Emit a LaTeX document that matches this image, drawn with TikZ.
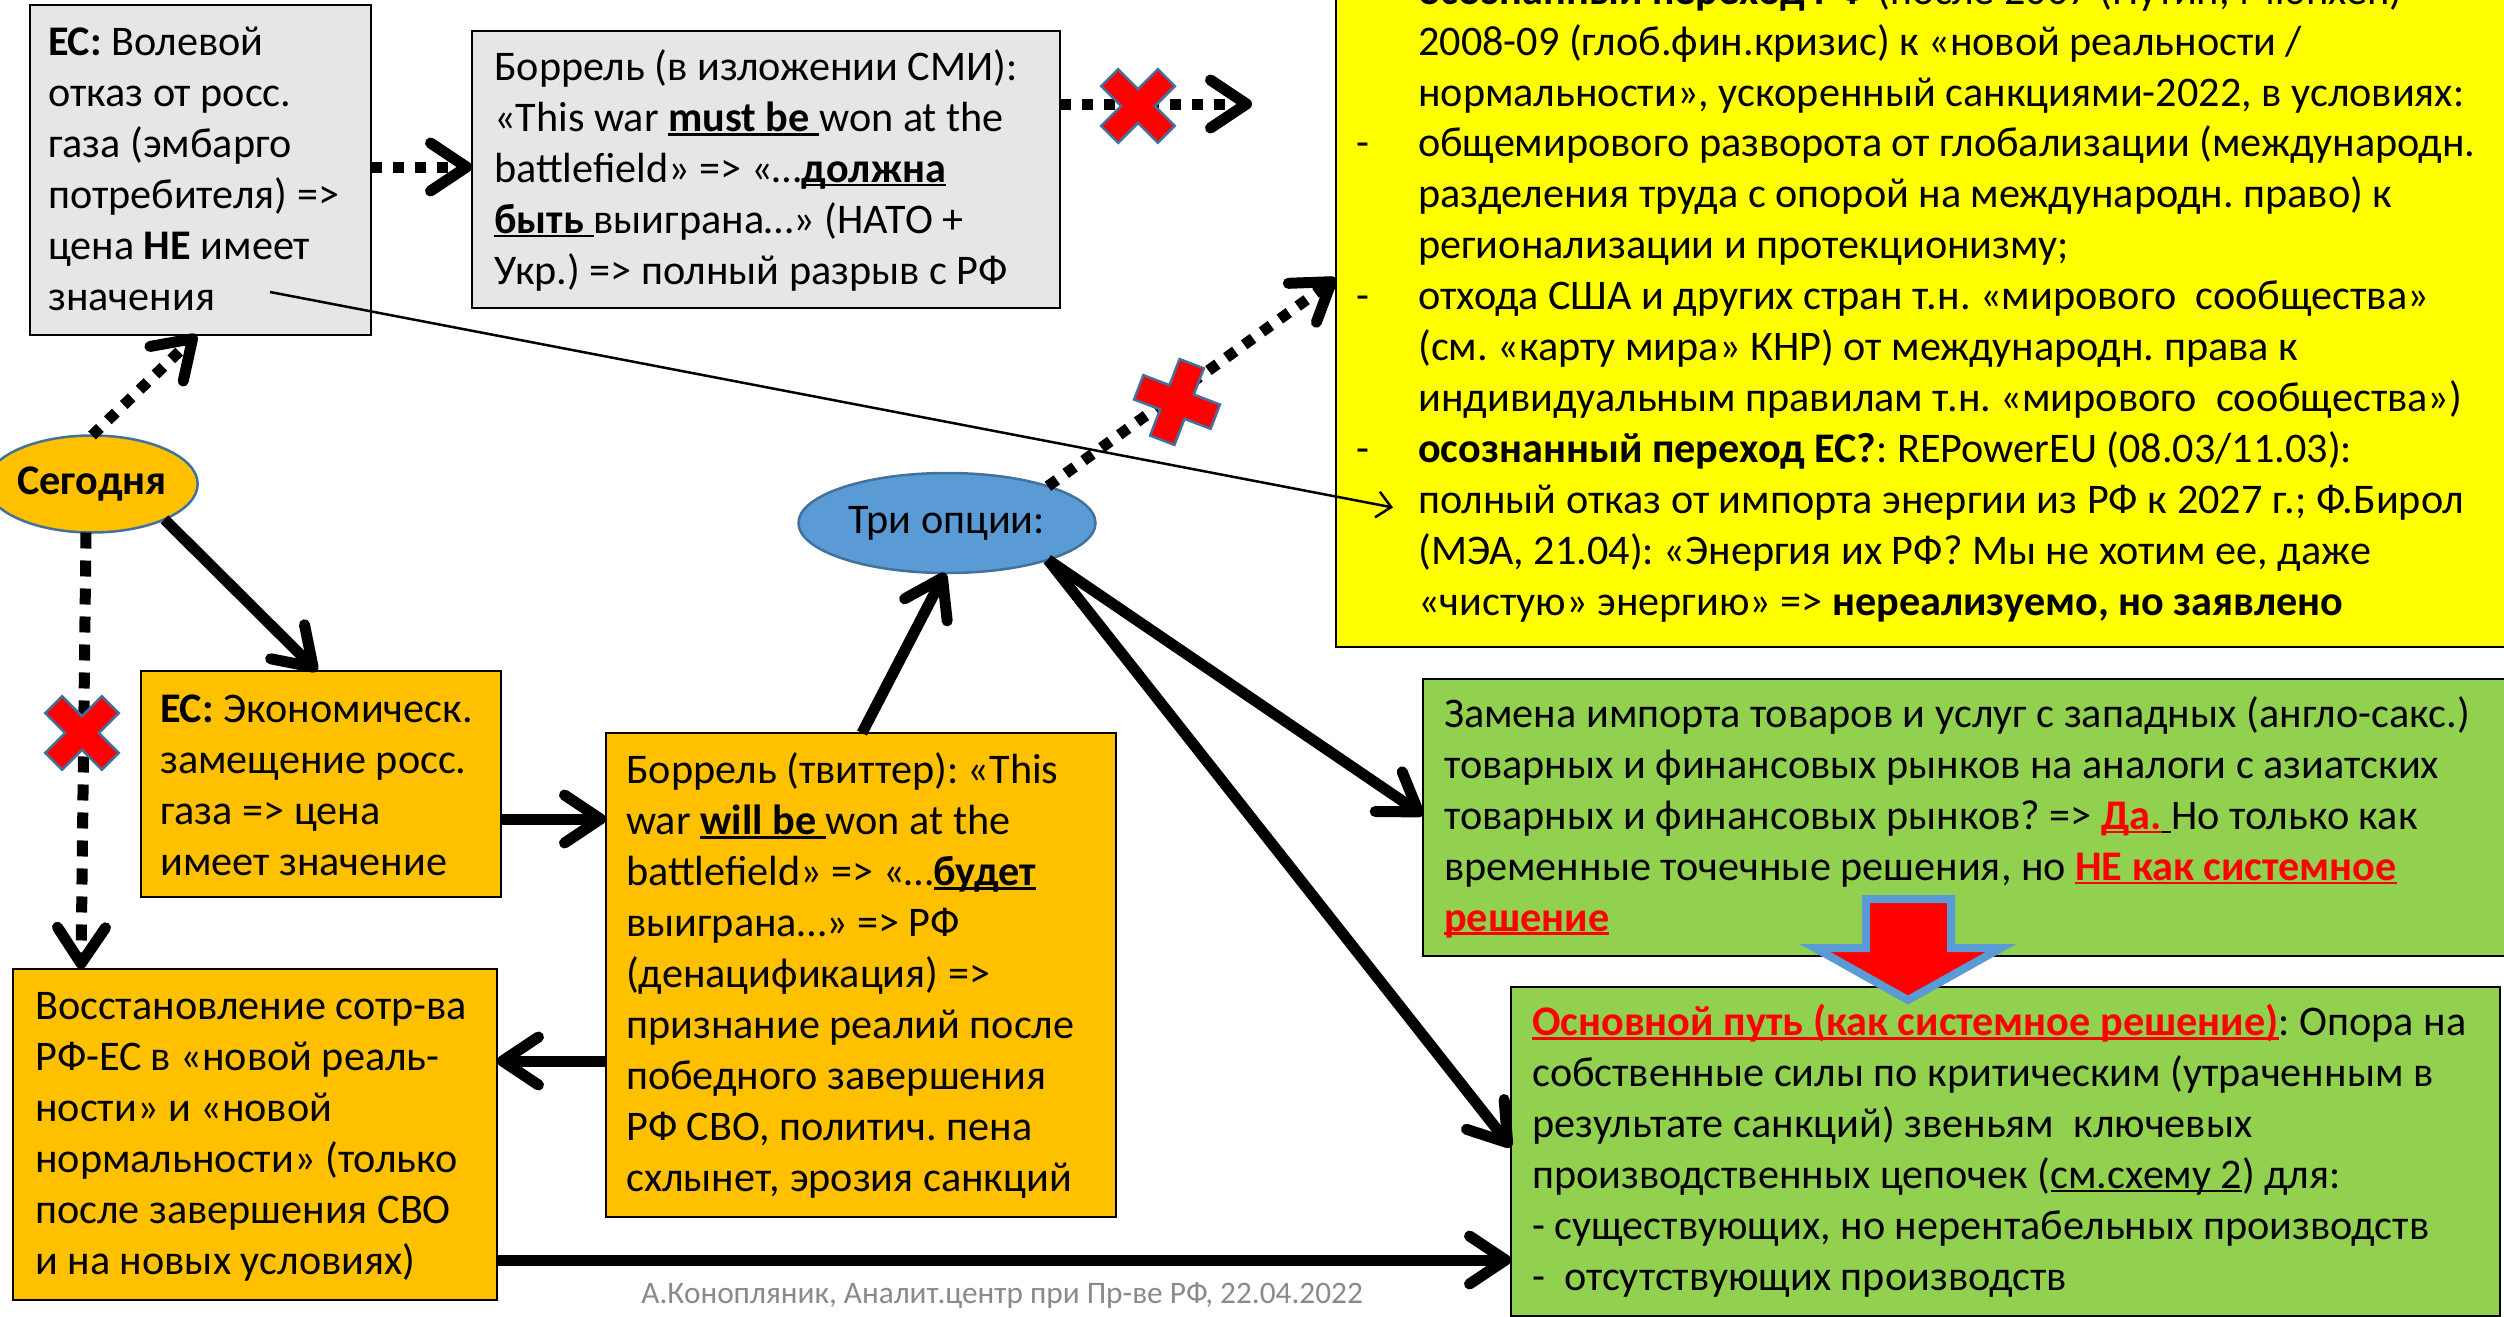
\documentclass[tikz,border=0pt]{standalone}
\usepackage{fontspec}
\setmainfont{Carlito}
\frenchspacing
\usetikzlibrary{arrows.meta,calc,shapes.geometric}
\definecolor{cgrey}{HTML}{E7E6E6}
\definecolor{corange}{HTML}{FFC000}
\definecolor{cgreen}{HTML}{92D050}
\definecolor{cyellow}{HTML}{FFFF00}
\definecolor{cblue}{HTML}{5B9BD5}
\definecolor{cblueline}{HTML}{41719C}
\definecolor{cred}{HTML}{FF0000}
\definecolor{cfoot}{HTML}{8A8A8A}
\newcommand\myul[1]{\leavevmode\setbox0=\hbox{#1}\rlap{\rule[-0.1em]{\wd0}{0.065em}}\box0}
\newcommand\ybul{\llap{\makebox[62pt][l]{-}}}
\newcommand\redtxt[1]{\textcolor{cred}{\textbf{\myul{#1}}}}
\tikzset{
  box/.style={draw=black, line width=2.5pt, rectangle, inner sep=0pt, outer sep=0pt, anchor=center},
  txt/.style={anchor=base west, align=left, inner sep=0pt, font=\fontsize{42.2pt}{50.9pt}\selectfont\frenchspacing},
  oval/.style={ellipse, draw=cblueline, line width=2.5pt, inner sep=0pt, outer sep=0pt, font=\fontsize{42.2pt}{50.9pt}\selectfont},
  thickarrow/.style={line width=11pt, -{Straight Barb[length=36pt,width=48pt,line width=11pt,round]}},
  dotarrow/.style={line width=11pt, dash pattern=on 11pt off 11pt, -{Straight Barb[length=36pt,width=48pt,line width=11pt,round]}},
  dasharrow/.style={line width=11pt, dash pattern=on 16pt off 12pt, -{Straight Barb[length=36pt,width=48pt,line width=11pt,round]}},
  thinarrow/.style={line width=2.5pt, -{Straight Barb[length=14pt,width=26pt,line width=2.5pt]}},
  xmark/.style={fill=cred, draw=cblueline, line width=2.5pt, line join=miter},
}
\newcommand\crossmark[5]{% x y rotation arm-half-length arm-half-width
  \draw[xmark, shift={(#1,#2)}, rotate=#3]
    (#5,#4)--(#5,#5)--(#4,#5)--(#4,-#5)--(#5,-#5)--(#5,-#4)--(-#5,-#4)--(-#5,-#5)--(-#4,-#5)--(-#4,#5)--(-#5,#5)--(-#5,#4)--cycle;}
\begin{document}
\begin{tikzpicture}[x=1pt,y=-1pt]
\useasboundingbox (0,0) rectangle (2504,1317);
\clip (0,0) rectangle (2504,1317);
\fill[white] (0,0) rectangle (2504,1317);

% boxes
\node[box, fill=cgrey, minimum width=341pt, minimum height=330pt] (g1) at (200.5,170) {};
\node[box, fill=cgrey, minimum width=588pt, minimum height=277pt] (g2) at (766,169.5) {};
\node[box, fill=cyellow, minimum width=1179pt, minimum height=667pt] (yl) at (1925.5,313.5) {};
\node[box, fill=corange, minimum width=360pt, minimum height=226pt] (ec) at (321,784) {};
\node[box, fill=corange, minimum width=510pt, minimum height=484pt] (bt) at (861,975) {};
\node[box, fill=corange, minimum width=484pt, minimum height=331pt] (vos) at (255,1134.5) {};
\node[box, fill=cgreen, minimum width=1092pt, minimum height=277pt] (gr1) at (1969,817.5) {};
\node[box, fill=cgreen, minimum width=989pt, minimum height=329pt] (gr2) at (2005.5,1151.5) {};
\node[oval, fill=corange, minimum width=186pt, minimum height=97pt] (seg) at (92,484) {\textbf{Сегодня}};
\node[oval, fill=cblue, minimum width=297pt, minimum height=100pt] (tri) at (947,523) {Три опции:};

% texts (anchored at the baseline of their last line)
\node[txt] (g1t) at (48,310) {\textbf{ЕС:} Волевой\\отказ от росс.\\газа (эмбарго\\потребителя) =>\\цена \textbf{НЕ} имеет\\значения};
\node[txt] (g2t) at (494,284) {Боррель (в изложении СМИ):\\«This war \textbf{\myul{must be }}won at the\\battlefield» => «…\textbf{\myul{должна}}\\\textbf{\myul{быть }}выиграна…» (НАТО +\\Укр.) => полный разрыв с РФ};
\node[txt] (ylt) at (1418,615) {\textbf{осознанный переход РФ} (после 2007 (Путин, Мюнхен)\\
2008-09 (глоб.фин.кризис) к «новой реальности /\\
нормальности», ускоренный санкциями-2022, в условиях:\\
\ybul общемирового разворота от глобализации (международн.\\
разделения труда с опорой на международн. право) к\\
регионализации и протекционизму;\\
\ybul отхода США и других стран т.н. «мирового\ \ сообщества»\\
(см. «карту мира» КНР) от международн. права к\\
индивидуальным правилам т.н. «мирового\ \ сообщества»)\\
\ybul \textbf{осознанный переход ЕС?}: REPowerEU (08.03/11.03):\\
полный отказ от импорта энергии из РФ к 2027 г.; Ф.Бирол\\
(МЭА, 21.04): «Энергия их РФ? Мы не хотим ее, даже\\
«чистую» энергию» => \textbf{нереализуемо, но заявлено}};
\node[txt] (ect) at (160,875) {\textbf{ЕС:} Экономическ.\\замещение росс.\\газа => цена\\имеет значение};
\node[txt] (btt) at (626,1191) {Боррель (твиттер): «This\\war \textbf{\myul{will be }}won at the\\battlefield» => «…\textbf{\myul{будет}}\\выиграна…» => РФ\\(денацификация) =>\\признание реалий после\\победного завершения\\РФ СВО, политич. пена\\схлынет, эрозия санкций};
\node[txt] (vost) at (35,1274) {Восстановление сотр-ва\\РФ-ЕС в «новой реаль-\\ности» и «новой\\нормальности» (только\\после завершения СВО\\и на новых условиях)};
\node[txt] (gr1t) at (1444,931) {Замена импорта товаров и услуг с западных (англо-сакс.)\\
товарных и финансовых рынков на аналоги с азиатских\\
товарных и финансовых рынков? => \redtxt{Да.}\myul{ }Но только как\\
временные точечные решения, но \redtxt{НЕ как системное}\\
\redtxt{решение}};
\node[txt] (gr2t) at (1532,1290) {\redtxt{Основной путь (как системное решение)}: Опора на\\
собственные силы по критическим (утраченным в\\
результате санкций) звеньям\ \ ключевых\\
производственных цепочек (\myul{см.схему 2}) для:\\
- существующих, но нерентабельных производств\\
-\ \ отсутствующих производств};
\node[anchor=center, inner sep=0pt, font=\fontsize{31.3pt}{38pt}\selectfont\frenchspacing, text=cfoot] (foot) at (1002,1296) {А.Конопляник, Аналит.центр при Пр-ве РФ, 22.04.2022};

% big red arrow between green boxes
\draw[fill=cred, draw=cblue, line width=8pt, line join=miter]
  (1866,899) -- (1951,899) -- (1951,948) -- (2001,948) -- (1908,1000) -- (1815,948) -- (1866,948) -- cycle;

% connectors
\draw[dotarrow] (seg.north) -- ($(g1.south)+(-4,0)$);
\draw[dotarrow] ($(g1.east)+(0,-3)$) coordinate (c1) -- (c1 -| g2.west);
\coordinate (g2end) at (1252,104);
\draw[dotarrow] (g2end -| g2.east) -- (g2end);
\draw[thickarrow] (seg.-26) -- ($(ec.north west)+(176,0)$);
\draw[dasharrow] ($(seg.south)+(-6,0)$) -- ($(vos.north west)+(68,0)$);
\draw[thickarrow] ($(ec.east)+(0,35)$) coordinate (c2) -- (c2 -| bt.west);
\draw[thickarrow] ($(bt.north west)+(256,0)$) -- ($(tri.south)+(-2,0)$);
\draw[thickarrow] ($(bt.west)+(0,86)$) coordinate (c3) -- (c3 -| vos.east);
\draw[thickarrow] ($(vos.east)+(0,125.5)$) coordinate (c4) -- (c4 -| gr2.west);
\draw[thickarrow] (tri.-20) -- ($(gr1.north west)+(0,136)$);
\draw[thickarrow] (tri.-20) -- ($(gr2.north west)+(0,160)$);
\draw[dotarrow] (tri.20) -- ($(yl.west)+(0,-35)$);
\coordinate (thinstart) at ($(g1.south west)+(240,-43)$);
\draw[thinarrow] (thinstart) -- ($(yl.west)+(57,194)$);

% red crosses
\crossmark{1138}{106}{45}{40}{12}
\crossmark{82}{733}{45}{40}{12}
\crossmark{1177}{402}{-21}{41}{13}
\end{tikzpicture}
\end{document}
